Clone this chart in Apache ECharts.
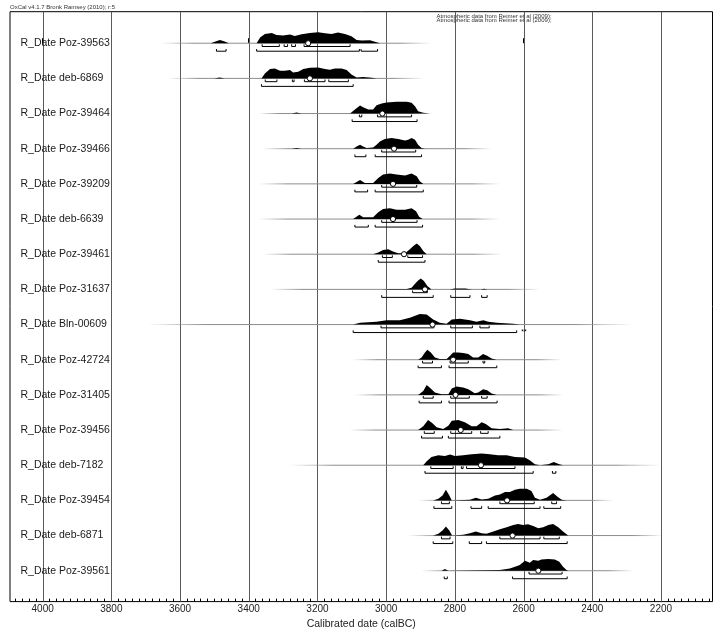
<!DOCTYPE html>
<html><head><meta charset="utf-8">
<script src="https://cdn.jsdelivr.net/npm/echarts@6/dist/echarts.min.js"></script>
<style>html,body{margin:0;padding:0;background:#fff}#c{width:714px;height:635px}</style>
</head><body><div id="c"></div>
<script>
// ---------------- DATA (calBC years; density in relative units) ----------------
const labels = ['R_Date Poz-39563','R_Date deb-6869','R_Date Poz-39464','R_Date Poz-39466','R_Date Poz-39209','R_Date deb-6639','R_Date Poz-39461','R_Date Poz-31637','R_Date Bln-00609','R_Date Poz-42724','R_Date Poz-31405','R_Date Poz-39456','R_Date deb-7182','R_Date Poz-39454','R_Date deb-6871','R_Date Poz-39561'];
const majorTicks = [4000,3800,3600,3400,3200,3000,2800,2600,2400,2200];
const minorTicks = [4080,4060,4040,4020,3980,3960,3940,3920,3900,3880,3860,3840,3820,3780,3760,3740,3720,3700,3680,3660,3640,3620,3580,3560,3540,3520,3500,3480,3460,3440,3420,3380,3360,3340,3320,3300,3280,3260,3240,3220,3180,3160,3140,3120,3100,3080,3060,3040,3020,2980,2960,2940,2920,2900,2880,2860,2840,2820,2780,2760,2740,2720,2700,2680,2660,2640,2620,2580,2560,2540,2520,2500,2480,2460,2440,2420,2380,2360,2340,2320,2300,2280,2260,2240,2220,2180,2160,2140,2120,2100,2080,2060];
const meanYears = [3227,3222,3011,2977,2980,2980,2948,2887,2865,2805,2798,2783,2724,2648,2632,2557];
const tailStart = [3655,3634,3370,3361,3370,3370,3359,3338,3693,3097,3091,3106,3280,2907,2936,2897];
const tailEnd   = [2868,2892,2864,2693,2669,2669,2663,2552,2285,2489,2485,2485,2203,2339,2194,2281];

const d01 = [[3510,0],[3495,2],[3484,3.3],[3472,2],[3458,0],[3377,0],[3367,5.7],[3353,9.3],[3333,10.3],[3319,8.3],[3300,7.7],[3280,8.7],[3266,7.3],[3246,9],[3222,10.3],[3198,11],[3178,10],[3159,9.3],[3140,10.7],[3120,9.3],[3101,7],[3086,3.3],[3071,2.7],[3047,3],[3028,1],[3018,0]];
const d02 = [[3500,0],[3485,0.8],[3470,0],[3363,0],[3353,5],[3338,9.3],[3324,10],[3309,7.7],[3295,7.7],[3280,8.3],[3271,6],[3256,6.7],[3241,9.3],[3222,10.7],[3198,11],[3178,9.3],[3164,8.7],[3149,10],[3130,10],[3115,8.3],[3101,4],[3086,1],[3067,1.3],[3042,0.7],[3028,0]];
const d03 = [[3275,0],[3261,1],[3247,0],[3105,0],[3091,4],[3076,8],[3067,6.3],[3052,4],[3038,4],[3028,8.3],[3013,10],[2999,11],[2970,11.7],[2940,11.7],[2926,10.7],[2916,7.3],[2907,2.3],[2892,0.7],[2873,0]];
const d04 = [[3275,0],[3261,0.6],[3247,0],[3096,0],[3086,2.3],[3076,4],[3067,2.3],[3057,0.7],[3038,1.3],[3028,4],[3018,7.3],[3004,9.7],[2984,10.7],[2965,9.7],[2945,8.3],[2936,9],[2926,10.7],[2916,9],[2907,4],[2897,0.7],[2887,0]];
const d05 = [[3096,0],[3076,4],[3062,1],[3038,1],[3023,6],[3009,9.3],[2989,10.3],[2970,9.3],[2945,8.3],[2926,10.3],[2911,7.7],[2902,2.7],[2892,0]];
const d06 = [[3096,0],[3078,4.3],[3067,1.7],[3038,1.7],[3023,6.7],[3009,10],[2989,10.7],[2970,9.3],[2945,9.3],[2926,10.7],[2913,7.7],[2904,2.3],[2894,0]];
const d07 = [[3038,0],[3023,1.7],[3009,4.3],[2994,5],[2980,2.7],[2965,1],[2945,1],[2931,5],[2921,8.3],[2911,10.7],[2902,8.3],[2892,3.3],[2882,0]];
const d08 = [[3013,0],[2990,0.5],[2940,0.5],[2926,1.7],[2916,5.7],[2907,9],[2899,11],[2890,8.3],[2880,3.3],[2868,0],[2815,0],[2800,1],[2770,0.8],[2750,0],[2725,0],[2715,0.7],[2705,0]];
const d09 = [[3096,0],[3076,1.7],[3028,2.7],[2999,4.3],[2960,4.3],[2931,6.7],[2902,10.7],[2882,10],[2863,5],[2844,1.7],[2824,0.7],[2809,5],[2785,5.7],[2756,4.3],[2737,2.7],[2717,4.3],[2703,2.7],[2678,1.7],[2630,0.7],[2611,0]];
const d10 = [[2907,0],[2897,2.3],[2887,7.3],[2880,10],[2870,7.3],[2858,2.3],[2844,0.7],[2824,0.7],[2814,4],[2805,7.3],[2790,7.3],[2776,6.7],[2761,5.7],[2747,2.3],[2732,2.3],[2718,5.7],[2706,4],[2693,1.3],[2678,0]];
const d11 = [[2907,0],[2892,4],[2882,10],[2871,6.7],[2858,2.3],[2839,0.7],[2819,0.7],[2809,6.3],[2795,8.3],[2776,7.3],[2761,5.7],[2742,1.7],[2732,2.3],[2718,5.7],[2706,4.7],[2693,1.3],[2678,0]];
const d12 = [[2907,0],[2892,3.7],[2878,10],[2866,7],[2853,2.7],[2834,1],[2819,4.3],[2809,9.3],[2790,10],[2771,7.7],[2751,3.7],[2737,3.7],[2722,7.7],[2710,6],[2693,1.7],[2669,1],[2645,1.7],[2630,0]];
const d13 = [[2892,0],[2882,4],[2868,8.3],[2848,10],[2829,9.3],[2814,10.7],[2800,9.3],[2776,10],[2751,11],[2722,11.7],[2698,11],[2674,10],[2649,10],[2625,8.3],[2611,8],[2596,7.7],[2582,5],[2567,1],[2552,0],[2528,1],[2512,3.3],[2496,1],[2485,0]];
const d14 = [[2863,0],[2848,1.7],[2836,5],[2826,10.7],[2816,5],[2809,0],[2756,0.7],[2739,2.7],[2722,1],[2703,1.7],[2683,5],[2669,6],[2654,8.3],[2640,8.3],[2625,10.7],[2611,11.7],[2591,11.7],[2577,9.3],[2567,2.7],[2552,0.7],[2533,2.7],[2514,7.3],[2502,4],[2489,0.7],[2475,0]];
const d15 = [[2863,0],[2848,1.7],[2836,5],[2826,9],[2816,5],[2808,0],[2776,0.7],[2756,2.3],[2739,4],[2722,2.3],[2708,1.7],[2688,4],[2669,6.3],[2649,8.3],[2630,10.7],[2616,11.7],[2601,10.7],[2587,11.3],[2572,9.7],[2557,7.3],[2543,8.3],[2528,10.7],[2514,11.7],[2499,8.3],[2485,4],[2470,0]];
const d16 = [[2839,0],[2829,1.7],[2819,0],[2669,0.7],[2640,2.3],[2625,4],[2611,5.7],[2596,10],[2582,8],[2572,10.7],[2557,10],[2548,11.3],[2528,11.7],[2509,11.3],[2496,9],[2485,4],[2475,0.7],[2470,0]];

const sigma1 = [
  [[3361,3311],[3297,3287],[3275,3264],[3239,3105]],
  [[3352,3318],[3273,3268],[3238,3178],[3167,3110]],
  [[3078,3071],[3025,2926]],
  [[3013,2914]],
  [[3013,2911]],
  [[3013,2910]],
  [[3011,2982],[2937,2894]],
  [[2923,2880]],
  [[3015,2861],[2812,2749],[2727,2700]],
  [[2894,2865],[2814,2761],[2718,2713]],
  [[2892,2863],[2812,2758],[2722,2706]],
  [[2889,2860],[2812,2751],[2725,2703]],
  [[2870,2805],[2781,2776],[2766,2625]],
  [[2839,2816],[2669,2569],[2518,2504]],
  [[2839,2814],[2669,2552],[2541,2496]],
  [[2584,2488]]
];
const sigma2 = [
  [[3494,3466],[3377,3078],[3073,3025]],
  [[3363,3096]],
  [[3099,2910]],
  [[3091,3059],[3032,2897]],
  [[3091,3054],[3032,2892]],
  [[3091,3052],[3032,2894]],
  [[3023,2887]],
  [[3013,2863],[2812,2756],[2722,2706]],
  [[3096,2620]],
  [[2907,2839],[2817,2678]],
  [[2904,2839],[2817,2677]],
  [[2897,2836],[2819,2669]],
  [[2887,2572],[2516,2506]],
  [[2861,2809],[2753,2722],[2703,2552],[2541,2492]],
  [[2863,2806],[2758,2722],[2708,2473]],
  [[2831,2822],[2632,2473]]
];
const noteRows = [8]; const noteYears = [2599]; const noteTexts = ['**'];

// ---------------- RENDER ----------------
const densities = [d01,d02,d03,d04,d05,d06,d07,d08,d09,d10,d11,d12,d13,d14,d15,d16];
const Y_MIN = -0.896, Y_MAX = 15.878;
const DENS = 1/35.25;
const FONT = '"Liberation Sans", Arial, Helvetica, sans-serif';

function renderRow(params, api) {
  const i = api.value(1);
  const ch = [];
  const t0 = api.coord([tailStart[i], i]), t1 = api.coord([tailEnd[i], i]);
  ch.push({type:'line', shape:{x1:t0[0], y1:t0[1], x2:t1[0], y2:t1[1]},
    style:{lineWidth:1, stroke:new echarts.graphic.LinearGradient(0,0,1,0,[
      {offset:0,color:'rgba(150,150,150,0)'},{offset:0.12,color:'rgba(140,140,140,1)'},
      {offset:0.88,color:'rgba(140,140,140,1)'},{offset:1,color:'rgba(150,150,150,0)'}])}});
  const d = densities[i];
  const pts = [api.coord([d[0][0], i])];
  d.forEach(p => pts.push(api.coord([p[0], i - p[1]*DENS])));
  pts.push(api.coord([d[d.length-1][0], i]));
  ch.push({type:'polygon', shape:{points:pts}, style:{fill:'#000'}});
  const br = (r, off) => {
    const a = api.coord([r[0], i]), b = api.coord([r[1], i]);
    const y = a[1] + off;
    return {type:'polyline', shape:{points:[[a[0],y-2.2],[a[0],y],[b[0],y],[b[0],y-2.2]]},
      style:{stroke:'#000', lineWidth:1, fill:null}};
  };
  sigma1[i].forEach(r => ch.push(br(r, 3.3)));
  sigma2[i].forEach(r => ch.push(br(r, 8)));
  const m = api.coord([meanYears[i], i]);
  ch.push({type:'circle', shape:{cx:m[0], cy:m[1], r:2.6}, style:{fill:'#fff', stroke:'#000', lineWidth:1}});
  noteRows.forEach((nr, k) => {
    if (nr === i) {
      const p = api.coord([noteYears[k], i]);
      ch.push({type:'text', x:p[0], y:p[1]+8, style:{text:noteTexts[k], fontSize:7, fontFamily:FONT, fill:'#000', align:'center', verticalAlign:'middle'}});
    }
  });
  const lb = api.coord([tailStart[i], i]);
  ch.push({type:'text', x:20.5, y:lb[1], style:{text:labels[i], fontSize:10.5, fontFamily:FONT, fill:'#1a1a1a', align:'left', verticalAlign:'middle'}});
  return {type:'group', children:ch};
}

function renderGrid(params, api) {
  const v = api.value(0);
  const a = api.coord([v, Y_MIN]), b = api.coord([v, Y_MAX]);
  const x = Math.round(a[0]) + 0.5;
  return {type:'rect', shape:{x:x-0.5, y:a[1], width:1, height:b[1]-a[1]}, style:{fill:'#5a5a5a'}};
}

const chart = echarts.init(document.getElementById('c'));
chart.setOption({
  animation:false,
  backgroundColor:'#fff',
  grid:{left:10, right:1.5, top:11.7, bottom:32, show:true, borderColor:'#000', borderWidth:1, backgroundColor:'transparent'},
  xAxis:[{
    type:'value', inverse:true, min:2050, max:4095, position:'bottom',
    axisLine:{show:false}, splitLine:{show:false},
    axisTick:{show:true, inside:true, length:5, customValues:majorTicks, lineStyle:{color:'#000'}},
    axisLabel:{show:true, customValues:majorTicks, margin:2.5, fontSize:10, fontFamily:FONT, color:'#222', formatter:v => String(v)},
    name:'Calibrated date (calBC)', nameLocation:'middle', nameGap:16,
    nameTextStyle:{fontSize:10.5, fontFamily:FONT, color:'#222'}
  },{
    type:'value', inverse:true, min:2050, max:4095, position:'bottom', offset:0,
    axisLine:{show:false}, splitLine:{show:false}, axisLabel:{show:false},
    axisTick:{show:true, inside:true, length:3, customValues:minorTicks, lineStyle:{color:'#000'}}
  }],
  yAxis:{type:'value', inverse:true, min:Y_MIN, max:Y_MAX, show:false},
  graphic:[
    {type:'text', left:10, top:4.5, style:{text:'OxCal v4.1.7 Bronk Ramsey (2010); r:5', fontSize:6, fontFamily:FONT, fill:'#333'}},
    {type:'text', left:436.5, top:13.3, style:{text:'Atmospheric data from Reimer et al (2009);', fontSize:6, fontFamily:FONT, fill:'#333'}},
    {type:'text', left:436.5, top:17.6, style:{text:'Atmospheric data from Reimer et al (2009);', fontSize:6, fontFamily:FONT, fill:'#333'}}
  ],
  series:[
    {type:'custom', renderItem:renderGrid, data:majorTicks.map(v=>[v, Y_MIN]), silent:true, z:1, clip:false},
    {type:'custom', renderItem:renderRow, data:labels.map((n,i)=>[meanYears[i], i]), silent:true, z:2}
  ]
});
</script></body></html>
